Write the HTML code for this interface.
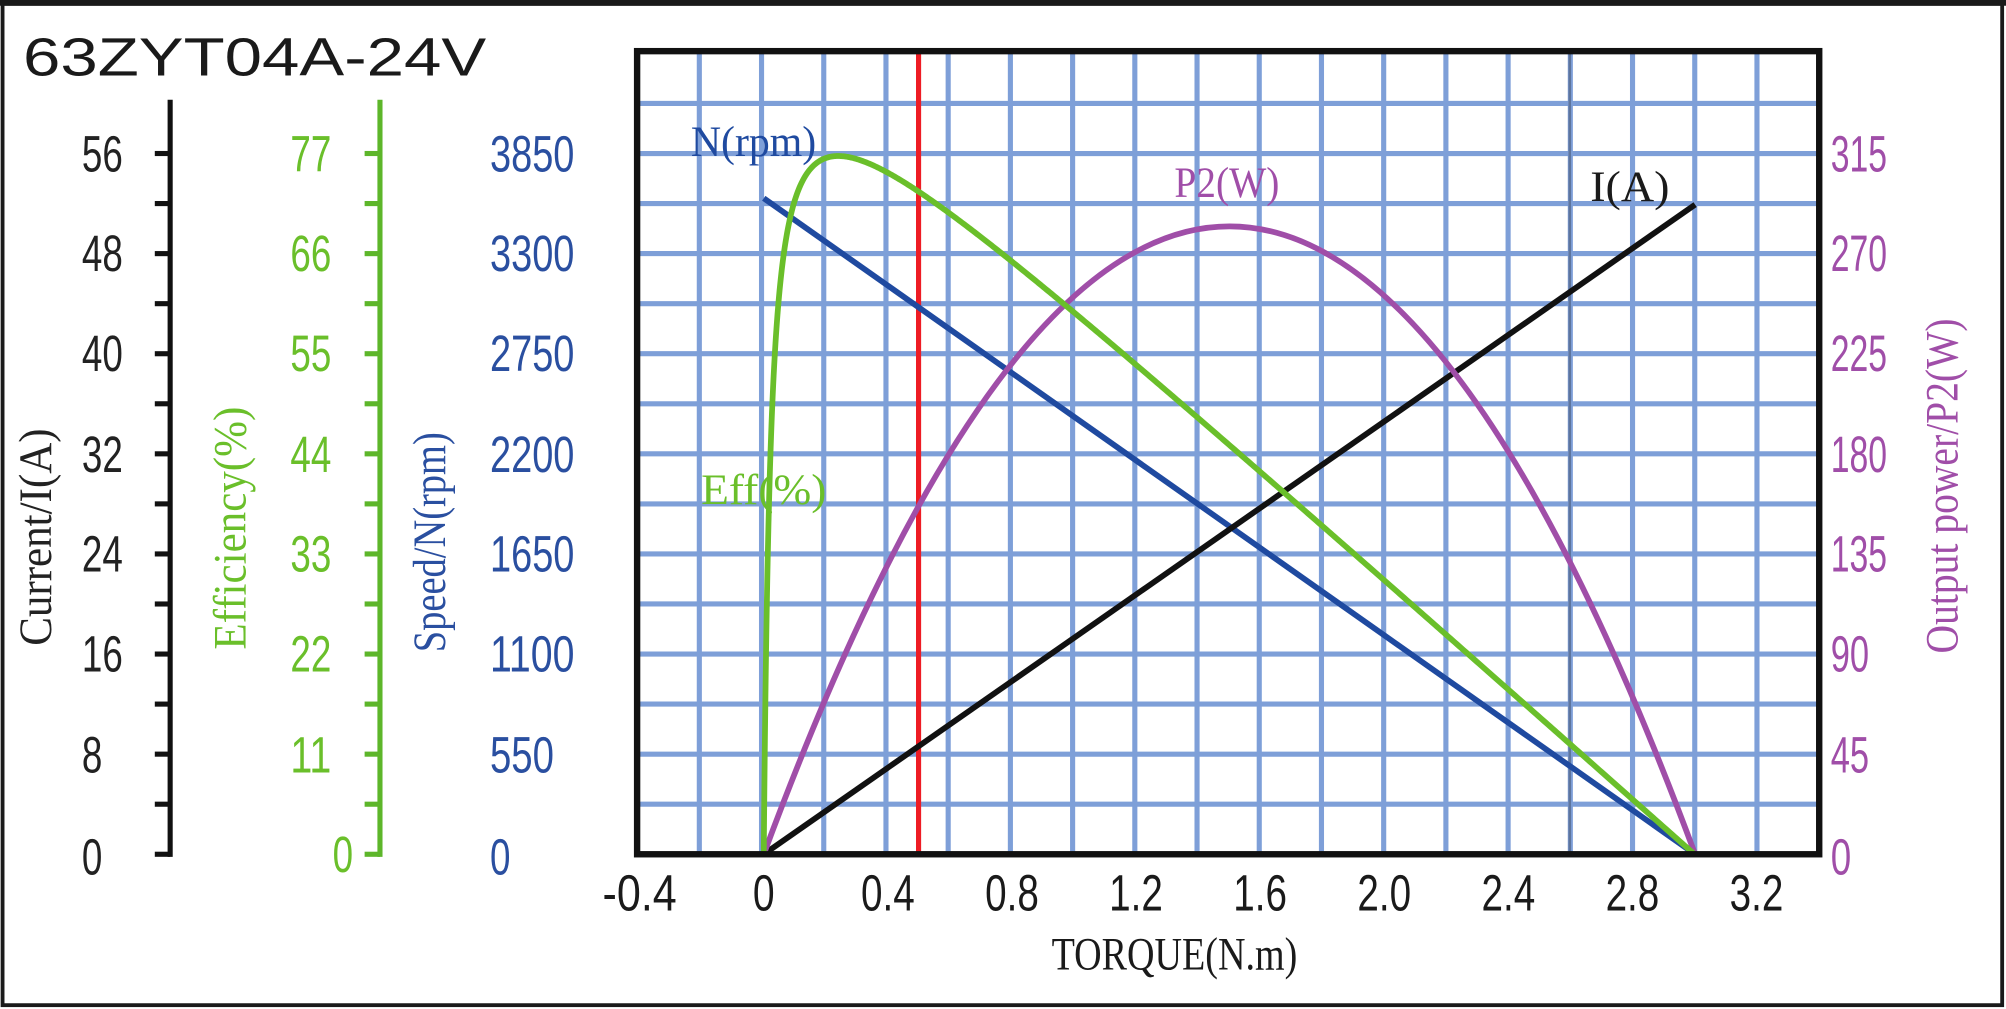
<!DOCTYPE html>
<html><head><meta charset="utf-8"><style>
html,body{margin:0;padding:0;background:#fff;}
svg{display:block;}
text{font-family:"Liberation Sans Narrow","Liberation Sans",sans-serif;}
.s{font-family:"Liberation Serif",serif;}
</style></head><body>
<svg id="c" width="2006" height="1009" viewBox="0 0 1568 789" preserveAspectRatio="none" xmlns="http://www.w3.org/2000/svg">
<rect x="0" y="0" width="1568" height="789" fill="#fff"/>
<rect x="2" y="3" width="1563" height="783" fill="none" stroke="#1a1a1a" stroke-width="3"/>
<line x1="0" y1="2" x2="1568" y2="2" stroke="#1a1a1a" stroke-width="5"/>
<text x="18" y="59" font-size="42" fill="#1a1a1a" textLength="362" lengthAdjust="spacingAndGlyphs" style="font-family:'Liberation Sans',sans-serif">63ZYT04A-24V</text>
<g id="grid"></g>
<line x1="718" y1="40" x2="718" y2="668" stroke="#ee1c24" stroke-width="4"/>
<line x1="1227" y1="40" x2="1227" y2="668" stroke="#4a5a78" stroke-width="2" opacity="0.6"/>
<g id="curves" fill="none" stroke-width="4.5"></g>
<rect x="498" y="40" width="924" height="628" fill="none" stroke="#111" stroke-width="5"/>
<line x1="133" y1="78" x2="133" y2="670" stroke="#111" stroke-width="4"/>
<line x1="297" y1="78" x2="297" y2="670" stroke="#5db62a" stroke-width="4"/>
<g id="ticks"></g>
<g font-size="40" text-anchor="end" fill="#222">
<text x="96" y="134" textLength="32" lengthAdjust="spacingAndGlyphs">56</text>
<text x="96" y="212" textLength="32" lengthAdjust="spacingAndGlyphs">48</text>
<text x="96" y="290" textLength="32" lengthAdjust="spacingAndGlyphs">40</text>
<text x="96" y="369" textLength="32" lengthAdjust="spacingAndGlyphs">32</text>
<text x="96" y="447" textLength="32" lengthAdjust="spacingAndGlyphs">24</text>
<text x="96" y="525" textLength="32" lengthAdjust="spacingAndGlyphs">16</text>
<text x="80" y="604" textLength="16" lengthAdjust="spacingAndGlyphs">8</text>
<text x="80" y="684" textLength="16" lengthAdjust="spacingAndGlyphs">0</text>
</g>
<g font-size="40" text-anchor="end" fill="#6abf2a">
<text x="259" y="134" textLength="32" lengthAdjust="spacingAndGlyphs">77</text>
<text x="259" y="212" textLength="32" lengthAdjust="spacingAndGlyphs">66</text>
<text x="259" y="290" textLength="32" lengthAdjust="spacingAndGlyphs">55</text>
<text x="259" y="369" textLength="32" lengthAdjust="spacingAndGlyphs">44</text>
<text x="259" y="447" textLength="32" lengthAdjust="spacingAndGlyphs">33</text>
<text x="259" y="525" textLength="32" lengthAdjust="spacingAndGlyphs">22</text>
<text x="259" y="604" textLength="32" lengthAdjust="spacingAndGlyphs">11</text>
<text x="276" y="682" textLength="16" lengthAdjust="spacingAndGlyphs">0</text>
</g>
<g font-size="40" fill="#2a4fa0">
<text x="383" y="134" textLength="66" lengthAdjust="spacingAndGlyphs">3850</text>
<text x="383" y="212" textLength="66" lengthAdjust="spacingAndGlyphs">3300</text>
<text x="383" y="290" textLength="66" lengthAdjust="spacingAndGlyphs">2750</text>
<text x="383" y="369" textLength="66" lengthAdjust="spacingAndGlyphs">2200</text>
<text x="383" y="447" textLength="66" lengthAdjust="spacingAndGlyphs">1650</text>
<text x="383" y="525" textLength="66" lengthAdjust="spacingAndGlyphs">1100</text>
<text x="383" y="604" textLength="50" lengthAdjust="spacingAndGlyphs">550</text>
<text x="383" y="684" textLength="16" lengthAdjust="spacingAndGlyphs">0</text>
</g>
<g font-size="40" fill="#a04ea8">
<text x="1431" y="134" textLength="44" lengthAdjust="spacingAndGlyphs">315</text>
<text x="1431" y="212" textLength="44" lengthAdjust="spacingAndGlyphs">270</text>
<text x="1431" y="290" textLength="44" lengthAdjust="spacingAndGlyphs">225</text>
<text x="1431" y="369" textLength="44" lengthAdjust="spacingAndGlyphs">180</text>
<text x="1431" y="447" textLength="44" lengthAdjust="spacingAndGlyphs">135</text>
<text x="1431" y="525" textLength="30" lengthAdjust="spacingAndGlyphs">90</text>
<text x="1431" y="604" textLength="30" lengthAdjust="spacingAndGlyphs">45</text>
<text x="1431" y="684" textLength="16" lengthAdjust="spacingAndGlyphs">0</text>
</g>
<text class="s" transform="translate(40,420) rotate(-90)" font-size="36" text-anchor="middle" fill="#222" textLength="170" lengthAdjust="spacingAndGlyphs">Current/I(A)</text>
<text class="s" transform="translate(192,413) rotate(-90)" font-size="36" text-anchor="middle" fill="#6abf2a" textLength="190" lengthAdjust="spacingAndGlyphs">Efficiency(%)</text>
<text class="s" transform="translate(348,424) rotate(-90)" font-size="36" text-anchor="middle" fill="#2a4fa0" textLength="172" lengthAdjust="spacingAndGlyphs">Speed/N(rpm)</text>
<text class="s" transform="translate(1530,380) rotate(-90)" font-size="36" text-anchor="middle" fill="#a04ea8" textLength="262" lengthAdjust="spacingAndGlyphs">Output power/P2(W)</text>
<g font-size="40" text-anchor="middle" fill="#1a1a1a">
<text x="500" y="712" textLength="58" lengthAdjust="spacingAndGlyphs">-0.4</text>
<text x="597" y="712" textLength="17" lengthAdjust="spacingAndGlyphs">0</text>
<text x="694" y="712" textLength="42" lengthAdjust="spacingAndGlyphs">0.4</text>
<text x="791" y="712" textLength="42" lengthAdjust="spacingAndGlyphs">0.8</text>
<text x="888" y="712" textLength="42" lengthAdjust="spacingAndGlyphs">1.2</text>
<text x="985" y="712" textLength="42" lengthAdjust="spacingAndGlyphs">1.6</text>
<text x="1082" y="712" textLength="42" lengthAdjust="spacingAndGlyphs">2.0</text>
<text x="1179" y="712" textLength="42" lengthAdjust="spacingAndGlyphs">2.4</text>
<text x="1276" y="712" textLength="42" lengthAdjust="spacingAndGlyphs">2.8</text>
<text x="1373" y="712" textLength="42" lengthAdjust="spacingAndGlyphs">3.2</text>
</g>
<text class="s" x="918" y="758" font-size="36" text-anchor="middle" fill="#1a1a1a" textLength="192" lengthAdjust="spacingAndGlyphs">TORQUE(N.m)</text>
<text class="s" x="540" y="122" font-size="34" fill="#1f4aa0" textLength="98" lengthAdjust="spacingAndGlyphs">N(rpm)</text>
<text class="s" x="918" y="154" font-size="34" fill="#a04ea8" textLength="82" lengthAdjust="spacingAndGlyphs">P2(W)</text>
<text class="s" x="1243" y="157" font-size="34" fill="#1a1a1a" textLength="62" lengthAdjust="spacingAndGlyphs">I(A)</text>
<text class="s" x="548" y="394" font-size="34" fill="#6abf2a" textLength="98" lengthAdjust="spacingAndGlyphs">Eff(%)</text>
</svg>
<script>
(function(){
var NS="http://www.w3.org/2000/svg";
function el(p,t,a){var e=document.createElementNS(NS,t);for(var k in a)e.setAttribute(k,a[k]);p.appendChild(e);return e;}
var g=document.getElementById('grid');
for(var i=1;i<19;i++){var x=498+i*48.63;el(g,'line',{x1:x,y1:40,x2:x,y2:668,stroke:'#7e9fd8','stroke-width':4});}
for(var j=1;j<16;j++){var y=668-j*39.14;el(g,'line',{x1:498,y1:y,x2:1422,y2:y,stroke:'#7e9fd8','stroke-width':4});}
var t=document.getElementById('ticks');
for(var k=0;k<15;k++){var y=668-k*39.14;
 el(t,'line',{x1:121,y1:y,x2:133,y2:y,stroke:'#111','stroke-width':4});
 el(t,'line',{x1:285,y1:y,x2:297,y2:y,stroke:'#5db62a','stroke-width':4});}
var c=document.getElementById('curves');
function X(T){return 597+T*242.5;}
el(c,'line',{x1:597,y1:155,x2:1325,y2:668,stroke:'#1f4aa0'});
el(c,'line',{x1:597,y1:668,x2:1325,y2:160,stroke:'#111'});
el(c,'path',{d:'M597,668 Q961,-314 1325,668',stroke:'#a04ea8'});
var d='',t0=0.0229,A=216.7;
for(var n=0;n<=600;n++){var T=3*Math.pow(n/600,1.6);var v=A*T*(3-T)/(T+t0);d+=(n?'L':'M')+X(T).toFixed(2)+','+(668-v).toFixed(2);}
el(c,'path',{d:d,stroke:'#6abf2a'});
})();
</script>
</body></html>
